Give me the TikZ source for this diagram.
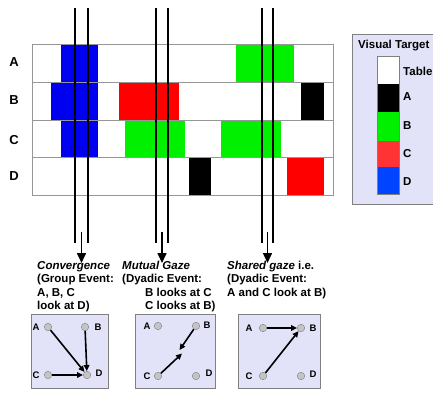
\documentclass[tikz,border=0pt]{standalone}
\usepackage{fontspec}
\setmainfont{Liberation Sans}
\usetikzlibrary{arrows.meta}

\definecolor{lav}{RGB}{226,226,248}
\definecolor{gridgray}{RGB}{150,150,150}
\definecolor{barblue}{RGB}{0,0,240}
\definecolor{barred}{RGB}{255,0,0}
\definecolor{bargreen}{RGB}{0,240,0}
\definecolor{keyblue}{RGB}{0,68,255}
\definecolor{keyred}{RGB}{255,51,51}
\definecolor{dotgray}{RGB}{196,196,196}

\begin{document}
\begin{tikzpicture}[x=1pt,y=-1pt,
  lbl/.style={font=\bfseries\fontsize{11.5}{13.5}\selectfont, inner sep=0, anchor=base west},
  rowlbl/.style={font=\bfseries\fontsize{13}{15}\selectfont, inner sep=0},
  dot/.style={circle, draw=gray, fill=dotgray, minimum size=7.5pt, inner sep=0},
  dotlbl/.style={font=\bfseries\fontsize{9.5}{11}\selectfont, inner sep=0},
  gaze/.style={line width=1.6pt, -{Triangle[length=6pt,width=5.5pt]}},
  timeline/.style={line width=1.5pt},
  eventarrow/.style={line width=1.6pt, -{Triangle[length=10pt,width=9pt]}},
  panel/.style={draw=gray, fill=lav},
]
\useasboundingbox (0,0) rectangle (433,393);
\clip (0,0) rectangle (433,393);

% --- gaze timeline grid ---
\fill[white] (32,44) rectangle (333,195);
% row A
\fill[barblue]  (61,44)  rectangle (98,82);
\fill[bargreen] (236,44) rectangle (294,82);
% row B
\fill[barblue]  (51,82)  rectangle (98,120);
\fill[barred]   (119,82) rectangle (179,120);
\fill[black]    (301,82) rectangle (324,120);
% row C
\fill[barblue]  (61,120) rectangle (98,157);
\fill[bargreen] (125,120) rectangle (185,157);
\fill[bargreen] (221,120) rectangle (281,157);
% row D
\fill[black]    (189,157) rectangle (211,195);
\fill[barred]   (287,157) rectangle (324,195);

\draw[gridgray, line width=0.8pt] (32,44) rectangle (333,195);
\foreach \yy in {82,120,157} \draw[gridgray, line width=0.8pt] (32,\yy) -- (333,\yy);

\node[rowlbl] (rA) at (14,62)  {A};
\node[rowlbl] (rB) at (14,100) {B};
\node[rowlbl] (rC) at (14,140) {C};
\node[rowlbl] (rD) at (14,176) {D};

% --- time windows and event arrows ---
\foreach \xx in {75,88,156,168,262,273} \draw[timeline] (\xx,8) -- (\xx,243);

\coordinate (e1s) at (81.5,232); \coordinate (e1t) at (81.5,263);
\coordinate (e2s) at (162,232);  \coordinate (e2t) at (162,263);
\coordinate (e3s) at (267.5,232); \coordinate (e3t) at (267.5,263);
\draw[eventarrow] (e1s) -- (e1t);
\draw[eventarrow] (e2s) -- (e2t);
\draw[eventarrow] (e3s) -- (e3t);

% --- event descriptions ---
\node[lbl] (t1a) at (37,269)   {\itshape Convergence};
\node[lbl] (t1b) at (37,282.5) {(Group Event:};
\node[lbl] (t1c) at (37,296)   {A, B, C};
\node[lbl] (t1d) at (37,309.5) {look at D)};

\node[lbl] (t2a) at (122,269)   {\itshape Mutual Gaze};
\node[lbl] (t2b) at (122,282.5) {(Dyadic Event:};
\node[lbl] (t2c) at (145,296)   {B looks at C};
\node[lbl] (t2d) at (145,309.5) {C looks at B)};

\node[lbl] (t3a) at (227,269)   {{\itshape Shared gaze} i.e.};
\node[lbl] (t3b) at (227,282.5) {(Dyadic Event:};
\node[lbl] (t3c) at (227,296)   {A and C look at B)};

% --- gaze graphs ---
\draw[panel] (31,314) rectangle (108,388);
\draw[panel] (135,314) rectangle (215,388);
\draw[panel] (238,314) rectangle (320,388);

% panel 1: convergence
\node[dot] (a1) at (48,327) {};
\node[dot] (b1) at (85,327) {};
\node[dot] (c1) at (48,375) {};
\node[dot] (d1) at (87,375) {};
\node[dotlbl] at (36,327) {A};
\node[dotlbl] at (98,327) {B};
\node[dotlbl] at (36,375) {C};
\node[dotlbl] at (99,373) {D};
\draw[gaze] (a1) -- (d1);
\draw[gaze] (b1) -- (d1);
\draw[gaze] (c1) -- (d1);

% panel 2: mutual gaze
\node[dot] (a2) at (158,326) {};
\node[dot] (b2) at (196,326) {};
\node[dot] (c2) at (158,376) {};
\node[dot] (d2) at (196,376) {};
\node[dotlbl] at (147,326) {A};
\node[dotlbl] at (207,325) {B};
\node[dotlbl] at (147,376) {C};
\node[dotlbl] at (209,373) {D};
\coordinate (m2b) at (179.5,350);
\coordinate (m2c) at (182,353.5);
\draw[gaze] (b2) -- (m2b);
\draw[gaze] (c2) -- (m2c);

% panel 3: shared gaze
\node[dot] (a3) at (263,328) {};
\node[dot] (b3) at (301,328) {};
\node[dot] (c3) at (263,376) {};
\node[dot] (d3) at (301,376) {};
\node[dotlbl] at (249,328) {A};
\node[dotlbl] at (313,328) {B};
\node[dotlbl] at (249,376) {C};
\node[dotlbl] at (313,374) {D};
\draw[gaze] (a3) -- (b3);
\draw[gaze] (c3) -- (b3);

% --- legend ---
\draw[panel] (352,34) rectangle (440,204);
\node[lbl] (kt) at (358,49) {Visual Target};
\fill[white]   (377,56)  rectangle (399,84);
\fill[black]   (377,84)  rectangle (399,112);
\fill[bargreen](377,112) rectangle (399,141);
\fill[keyred]  (377,141) rectangle (399,167);
\fill[keyblue] (377,167) rectangle (399,194);
\draw[gray, line width=0.6pt] (377,56) rectangle (399,194);
\node[lbl] (k0) at (403,76)    {Table};
\node[lbl] (k1) at (403,101)   {A};
\node[lbl] (k2) at (403,129.5) {B};
\node[lbl] (k3) at (403,157.5) {C};
\node[lbl] (k4) at (403,185)   {D};
\end{tikzpicture}
\end{document}
